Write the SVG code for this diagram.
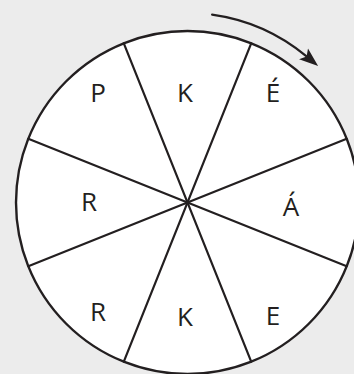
<svg xmlns="http://www.w3.org/2000/svg" width="354" height="374" viewBox="0 0 354 374">
<style>
.ln{stroke:#231f20;stroke-width:2.2;fill:none;stroke-linecap:round}
.lbl{font-family:"Open Sans","Noto Sans",sans-serif;font-size:26px;fill:#231f20;text-anchor:middle}
</style>
<defs>
<marker id="ah" markerUnits="userSpaceOnUse" markerWidth="20" markerHeight="15" refX="4" refY="7" orient="auto" viewBox="0 0 20 14">
<path d="M0,0 L19,7 L0,14 L4,7 Z" fill="#231f20"/>
</marker>
</defs>
<rect width="354" height="374" fill="#ececec"/>
<g id="wheel">
<circle cx="187.5" cy="202.5" r="171.5" fill="#ffffff" stroke="#231f20" stroke-width="2.4"/>
</g>
<g id="connectors">
<line class="ln" x1="123.8" y1="43.3" x2="251.2" y2="361.7"/>
<line class="ln" x1="251.2" y1="43.3" x2="123.8" y2="361.7"/>
<line class="ln" x1="28.3" y1="138.8" x2="346.7" y2="266.2"/>
<line class="ln" x1="28.3" y1="266.2" x2="346.7" y2="138.8"/>
<path class="ln" d="M212.1 14.6 A188.5 188.5 0 0 1 306.6 56.4" stroke-width="1.6" marker-end="url(#ah)"/>
</g>
<g id="n-P"><text class="lbl" x="98" y="102">P</text></g>
<g id="n-K1"><text class="lbl" x="185" y="102">K</text></g>
<g id="n-E1"><text class="lbl" x="273" y="102">É</text></g>
<g id="n-R1"><text class="lbl" x="89" y="211">R</text></g>
<g id="n-A"><text class="lbl" x="291" y="216">Á</text></g>
<g id="n-R2"><text class="lbl" x="98" y="321">R</text></g>
<g id="n-K2"><text class="lbl" x="185" y="326">K</text></g>
<g id="n-E2"><text class="lbl" x="273" y="325">E</text></g>
</svg>
